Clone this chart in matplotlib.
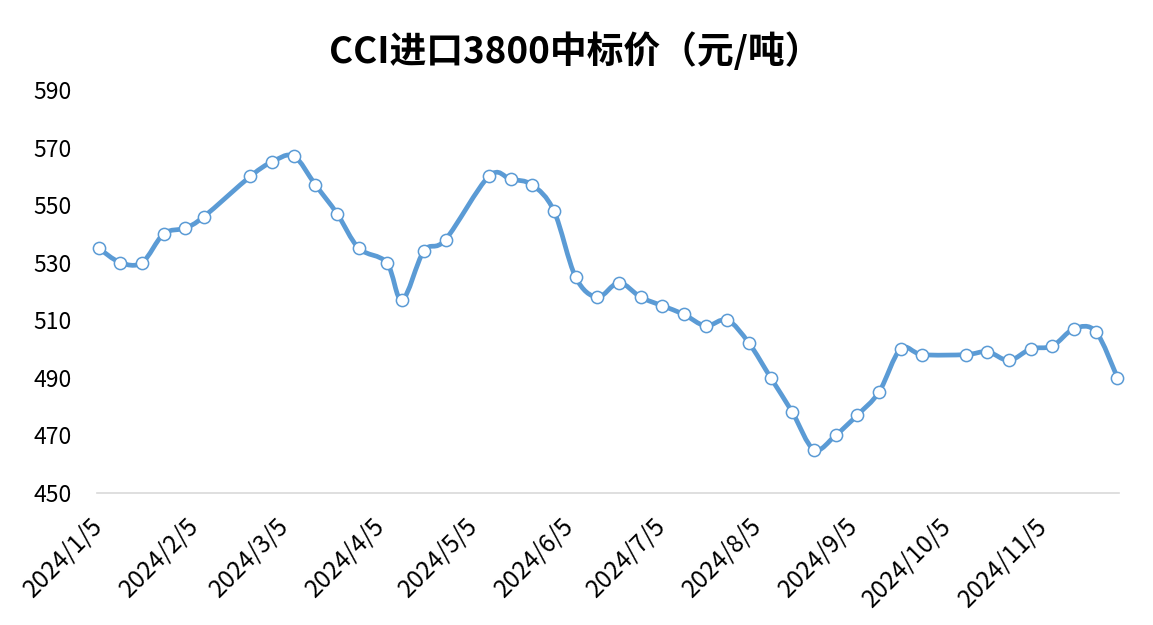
import matplotlib
matplotlib.use('Agg')
import matplotlib.pyplot as plt
import matplotlib.dates as mdates
from matplotlib.path import Path
from matplotlib.patches import PathPatch
import datetime as dt

plt.rcParams['font.family'] = ['Noto Sans CJK SC', 'DejaVu Sans']

dates = ['2024-01-05', '2024-01-12', '2024-01-19', '2024-01-26', '2024-02-02', '2024-02-08',
         '2024-02-23', '2024-03-01', '2024-03-08', '2024-03-15', '2024-03-22', '2024-03-29',
         '2024-04-07', '2024-04-12', '2024-04-19', '2024-04-26', '2024-05-10', '2024-05-17',
         '2024-05-24', '2024-05-31', '2024-06-07', '2024-06-14', '2024-06-21', '2024-06-28',
         '2024-07-05', '2024-07-12', '2024-07-19', '2024-07-26', '2024-08-02', '2024-08-09',
         '2024-08-16', '2024-08-23', '2024-08-30', '2024-09-06', '2024-09-13', '2024-09-20',
         '2024-09-27', '2024-10-11', '2024-10-18', '2024-10-25', '2024-11-01', '2024-11-08',
         '2024-11-15', '2024-11-22', '2024-11-29']
prices = [535, 530, 530, 540, 542, 546, 560, 565, 567, 557, 547, 535,
          530, 517, 534, 538, 560, 559, 557, 548, 525, 518, 523, 518,
          515, 512, 508, 510, 502, 490, 478, 465, 470, 477, 485, 500,
          498, 498, 499, 496, 500, 501, 507, 506, 490]
tick_dates = ['2024-01-05', '2024-02-05', '2024-03-05', '2024-04-05', '2024-05-05', '2024-06-05',
              '2024-07-05', '2024-08-05', '2024-09-05', '2024-10-05', '2024-11-05']
title = 'CCI进口3800中标价（元/吨）'

blue = '#5B9BD5'

x = [mdates.date2num(dt.datetime.strptime(d, '%Y-%m-%d')) for d in dates]
y = prices

fig = plt.figure(figsize=(11.53, 6.25), dpi=100)
ax = fig.add_axes([97 / 1153, 1 - 492.7 / 625, (1119 - 97) / 1153, (492.7 - 90) / 625])

# smoothed line (catmull-rom -> bezier), like excel's smooth line
pts = list(zip(x, y))
verts = [pts[0]]
codes = [Path.MOVETO]
n = len(pts)
for i in range(n - 1):
    p0 = pts[i - 1] if i > 0 else pts[i]
    p1 = pts[i]
    p2 = pts[i + 1]
    p3 = pts[i + 2] if i + 2 < n else pts[i + 1]
    c1 = (p1[0] + (p2[0] - p0[0]) / 6, p1[1] + (p2[1] - p0[1]) / 6)
    c2 = (p2[0] - (p3[0] - p1[0]) / 6, p2[1] - (p3[1] - p1[1]) / 6)
    verts += [c1, c2, p2]
    codes += [Path.CURVE4] * 3
ax.add_patch(PathPatch(Path(verts, codes), facecolor='none', edgecolor=blue,
                       lw=3.4, capstyle='round', joinstyle='round', zorder=2, clip_on=False))
ax.plot(x, y, linestyle='none', marker='o', markersize=8.8, markerfacecolor='white',
        markeredgecolor=blue, markeredgewidth=1.1, zorder=3, clip_on=False)

ax.set_xlim(x[0] - 0.55, x[-1] + 0.5)
ax.set_ylim(450, 590)
ax.set_yticks(range(450, 591, 20))

ticks = [dt.datetime.strptime(d, '%Y-%m-%d') for d in tick_dates]
ax.set_xticks([mdates.date2num(t) for t in ticks])
ax.set_xticklabels([f'{t.year}/{t.month}/{t.day}' for t in ticks], rotation=45,
                   ha='right', va='center', rotation_mode='anchor')

ax.tick_params(axis='both', length=0, labelsize=16.5, colors='black')
ax.tick_params(axis='y', pad=18)
ax.tick_params(axis='x', pad=21, labelsize=17.5)

for s in ['top', 'right', 'left']:
    ax.spines[s].set_visible(False)
ax.spines['bottom'].set_color('#D9D9D9')
ax.spines['bottom'].set_linewidth(1.2)

fig.text(575.5 / 1153, 1 - 52 / 625, title, ha='center', va='center',
         fontsize=26.5, fontweight='bold')

fig.savefig('out.png', dpi=100, facecolor='white')
